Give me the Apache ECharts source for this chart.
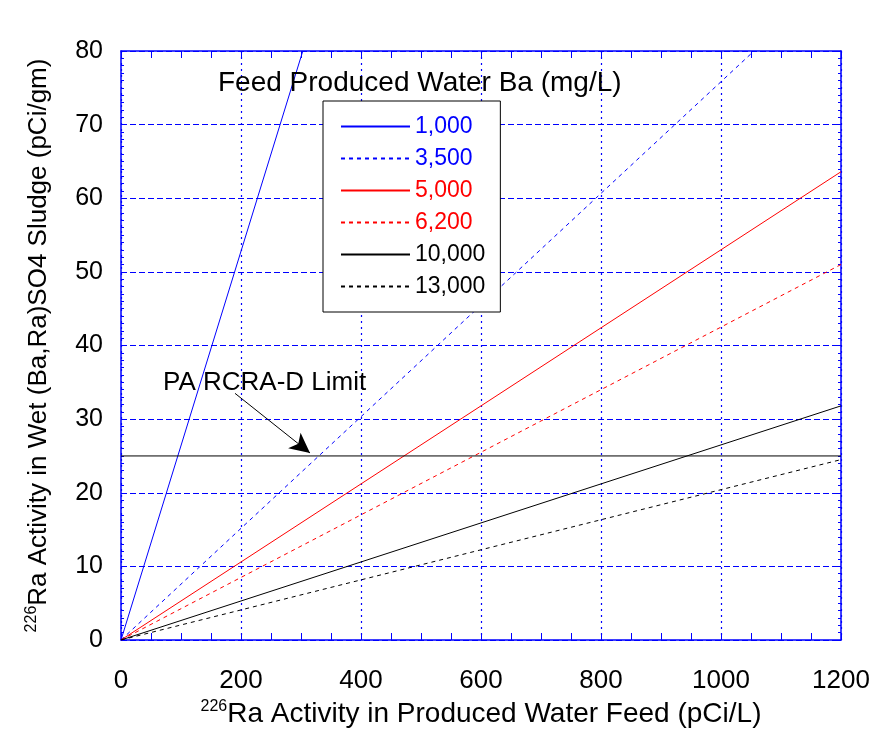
<!DOCTYPE html>
<html>
<head>
<meta charset="utf-8">
<script src="https://cdn.jsdelivr.net/npm/echarts@6/dist/echarts.min.js"></script>
<style>
  html, body { margin: 0; padding: 0; background: #fff; }
  #chart { width: 873px; height: 732px; }
</style>
</head>
<body>
<div id="chart"></div>
<script>
// Feed barium levels (mg/L) and the end point of each straight trend line
const baLevels   = ['1,000', '3,500', '5,000', '6,200', '10,000', '13,000'];
const endFeedRa  = [303, 1055, 1200, 1200, 1200, 1200];   // pCi/L
const endSludge  = [80, 80, 63.6, 51.0, 31.8, 24.5];       // pCi/gm
const lineColors = ['#0000ff', '#0000ff', '#ff0000', '#ff0000', '#000000', '#000000'];
const lineDashed = [false, true, false, true, false, true];

// PA RCRA-D regulatory limit and its callout arrow
const limitValue = 25;
const limitSpan  = [0, 1200];
const arrowFrom  = [190, 33.5];
const arrowTo    = [315, 25.4];

const xTicks = [0, 200, 400, 600, 800, 1000, 1200];
const yTicks = [0, 10, 20, 30, 40, 50, 60, 70, 80];

const FONT = '"Liberation Sans", Arial, sans-serif';
const GRID_BLUE = '#0000ff';

const chart = echarts.init(document.getElementById('chart'), null, { renderer: 'canvas' });

const series = baLevels.map((name, i) => ({
  name: name,
  type: 'line',
  symbol: 'none',
  animation: false,
  lineStyle: { color: lineColors[i], width: 1, type: lineDashed[i] ? [4, 4] : 'solid' },
  itemStyle: { color: lineColors[i] },
  data: [[0, 0], [endFeedRa[i], endSludge[i]]],
  z: 3
}));

series.push({
  name: 'limit',
  type: 'line',
  symbol: 'none',
  animation: false,
  lineStyle: { color: '#000', width: 1 },
  data: [[limitSpan[0], limitValue], [limitSpan[1], limitValue]],
  markLine: {
    silent: true,
    animation: false,
    symbol: ['none', 'arrow'],
    symbolSize: [15, 20],
    label: { show: false },
    lineStyle: { color: '#000', width: 1, type: 'solid' },
    data: [[{ coord: arrowFrom }, { coord: arrowTo }]]
  },
  z: 3
});

const axisLine = { show: true, onZero: false, lineStyle: { color: GRID_BLUE, width: 1.5 } };

const option = {
  backgroundColor: '#fff',
  animation: false,
  grid: { left: 121, top: 51, right: 32, bottom: 92, containLabel: false, outerBoundsMode: 'none' },
  legend: {
    orient: 'vertical',
    left: 323,
    top: 101,
    padding: [14, 15, 14, 17],
    backgroundColor: '#fff',
    borderColor: '#000',
    borderWidth: 1,
    itemWidth: 69,
    itemHeight: 14,
    itemGap: 9,
    selectedMode: false,
    itemStyle: { opacity: 0 },
    textStyle: { fontFamily: FONT, fontSize: 23 },
    data: baLevels.map((n, i) => ({ name: n, textStyle: { color: lineColors[i] } }))
  },
  xAxis: [
    {
      type: 'value', position: 'bottom',
      min: 0, max: 1200, interval: 200,
      axisLine: axisLine,
      axisTick: { show: true, inside: true, length: 7, lineStyle: { color: GRID_BLUE } },
      minorTick: { show: true, splitNumber: 4, length: 7, lineStyle: { color: GRID_BLUE } },
      axisLabel: { fontFamily: FONT, fontSize: 26, color: '#000', margin: 28,
        formatter: v => xTicks.includes(v) ? String(v) : '' },
      splitLine: { show: true, lineStyle: { color: GRID_BLUE, width: 1.2, type: [2, 4] } },
      name: '{sup|226}{t|Ra Activity in Produced Water Feed (pCi/L)}',
      nameLocation: 'middle',
      nameGap: 52,
      nameTextStyle: {
        rich: {
          sup: { fontFamily: FONT, fontSize: 16, color: '#000', padding: [0, 0, 14, 0] },
          t: { fontFamily: FONT, fontSize: 28, color: '#000' }
        }
      }
    },
    {
      type: 'value', position: 'top',
      min: 0, max: 1200, interval: 200,
      axisLine: axisLine,
      axisTick: { show: true, inside: true, length: 7, lineStyle: { color: GRID_BLUE } },
      minorTick: { show: true, splitNumber: 4, length: 7, lineStyle: { color: GRID_BLUE } },
      axisLabel: { show: false },
      splitLine: { show: false }
    }
  ],
  yAxis: [
    {
      type: 'value', position: 'left',
      min: 0, max: 80, interval: 10,
      axisLine: axisLine,
      axisTick: { show: true, inside: true, length: 4, lineStyle: { color: GRID_BLUE } },
      minorTick: { show: true, splitNumber: 10, length: 3, lineStyle: { color: GRID_BLUE } },
      axisLabel: { fontFamily: FONT, fontSize: 25, color: '#000', margin: 18,
        formatter: v => yTicks.includes(v) ? String(v) : '' },
      splitLine: { show: true, lineStyle: { color: GRID_BLUE, width: 1.2, type: [6, 3] } },
      name: '{sup|226}{t|Ra Activity in Wet (Ba,Ra)SO4 Sludge (pCi/gm)}',
      nameLocation: 'middle',
      nameRotate: 90,
      nameGap: 68,
      nameTextStyle: {
        rich: {
          sup: { fontFamily: FONT, fontSize: 16, color: '#000', padding: [0, 0, 13, 0] },
          t: { fontFamily: FONT, fontSize: 26, color: '#000' }
        }
      }
    },
    {
      type: 'value', position: 'right',
      min: 0, max: 80, interval: 10,
      axisLine: axisLine,
      axisTick: { show: true, inside: true, length: 4, lineStyle: { color: GRID_BLUE } },
      minorTick: { show: true, splitNumber: 10, length: 3, lineStyle: { color: GRID_BLUE } },
      axisLabel: { show: false },
      splitLine: { show: false }
    }
  ],
  graphic: [
    {
      type: 'text', left: 218, top: 69, z: 10,
      style: { text: 'Feed Produced Water Ba (mg/L)', font: '28px ' + FONT, fill: '#000' }
    },
    {
      type: 'text', left: 163, top: 370, z: 10,
      style: { text: 'PA RCRA-D Limit', font: '26px ' + FONT, fill: '#000' }
    }
  ],
  series: series
};

chart.setOption(option);
</script>
</body>
</html>
